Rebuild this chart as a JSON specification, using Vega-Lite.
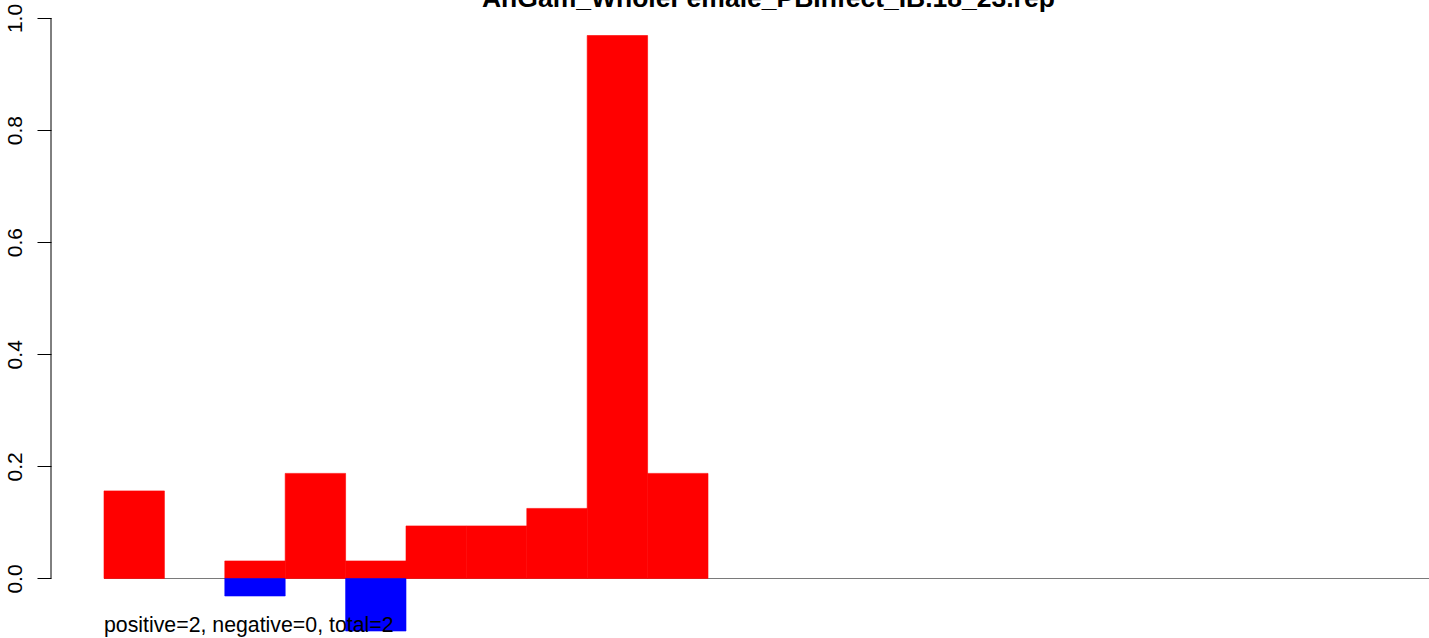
{
  "$schema": "https://vega.github.io/schema/vega-lite/v6.json",
  "width": 1378,
  "height": 638,
  "autosize": {"type": "none"},
  "padding": {"left": 51, "top": 0, "right": 0, "bottom": 0},
  "background": "white",
  "config": {"view": {"stroke": null}, "font": "Liberation Sans"},
  "data": {"values": [{"title": "AnGam_WholeFemale_PBInfect_IB.18_23.rep", "note": "positive=2, negative=0, total=2"}]},
  "datasets": {
    "bars": [
      {"start": 0, "end": 1, "value": 0.15625, "direction": "positive"},
      {"start": 2, "end": 3, "value": 0.03125, "direction": "positive"},
      {"start": 2, "end": 3, "value": -0.03125, "direction": "negative"},
      {"start": 3, "end": 4, "value": 0.1875, "direction": "positive"},
      {"start": 4, "end": 5, "value": 0.03125, "direction": "positive"},
      {"start": 4, "end": 5, "value": -0.09375, "direction": "negative"},
      {"start": 5, "end": 6, "value": 0.09375, "direction": "positive"},
      {"start": 6, "end": 7, "value": 0.09375, "direction": "positive"},
      {"start": 7, "end": 8, "value": 0.125, "direction": "positive"},
      {"start": 8, "end": 9, "value": 0.96875, "direction": "positive"},
      {"start": 9, "end": 10, "value": 0.1875, "direction": "positive"}
    ]
  },
  "layer": [
    {
      "mark": {"type": "rule", "color": "#7a7a7a", "strokeWidth": 1.2},
      "encoding": {
        "x": {"datum": 0, "type": "quantitative", "scale": {"domain": [-0.8775, 21.937], "nice": false, "zero": false}, "axis": null},
        "x2": {"datum": 21.937},
        "y": {"datum": 0, "type": "quantitative", "scale": {"domain": [-0.1062, 1.0321], "nice": false, "zero": false}}
      }
    },
    {
      "data": {"name": "bars"},
      "mark": {"type": "rect", "strokeWidth": 0.6},
      "encoding": {
        "x": {"field": "start", "type": "quantitative"},
        "x2": {"field": "end"},
        "y": {
          "field": "value",
          "type": "quantitative",
          "axis": {
            "values": [0, 0.2, 0.4, 0.6, 0.8, 1.0],
            "format": ".1f",
            "title": null,
            "domain": false,
            "grid": false,
            "ticks": true,
            "tickSize": 14,
            "tickColor": "black",
            "tickWidth": 1,
            "labelAngle": -90,
            "labelAlign": "center",
            "labelBaseline": "alphabetic",
            "labelPadding": 16,
            "labelColor": "black",
            "labelFont": "Liberation Sans",
            "labelFontSize": 21,
            "labelOverlap": false,
            "labelFlush": false
          }
        },
        "y2": {"datum": 0},
        "color": {
          "field": "direction",
          "type": "nominal",
          "scale": {"domain": ["positive", "negative"], "range": ["#ff0000", "#0000ff"]},
          "legend": null
        },
        "stroke": {
          "field": "direction",
          "type": "nominal",
          "scale": {"domain": ["positive", "negative"], "range": ["#ff0000", "#0000ff"]},
          "legend": null
        }
      }
    },
    {
      "mark": {"type": "rule", "color": "black", "strokeWidth": 1},
      "encoding": {
        "x": {"datum": -0.8775, "type": "quantitative"},
        "y": {"datum": 0, "type": "quantitative"},
        "y2": {"datum": 1}
      }
    },
    {
      "mark": {"type": "text", "align": "left", "baseline": "alphabetic", "font": "Liberation Sans", "fontSize": 21.3, "color": "black"},
      "encoding": {
        "x": {"datum": 0, "type": "quantitative"},
        "y": {"datum": -0.0954, "type": "quantitative"},
        "text": {"field": "note"}
      }
    },
    {
      "mark": {"type": "text", "align": "center", "baseline": "alphabetic", "font": "Liberation Sans", "fontSize": 26.5, "fontWeight": "bold", "color": "black"},
      "encoding": {
        "x": {"datum": 11.0, "type": "quantitative"},
        "y": {"datum": 1.0196, "type": "quantitative"},
        "text": {"field": "title"}
      }
    }
  ]
}
